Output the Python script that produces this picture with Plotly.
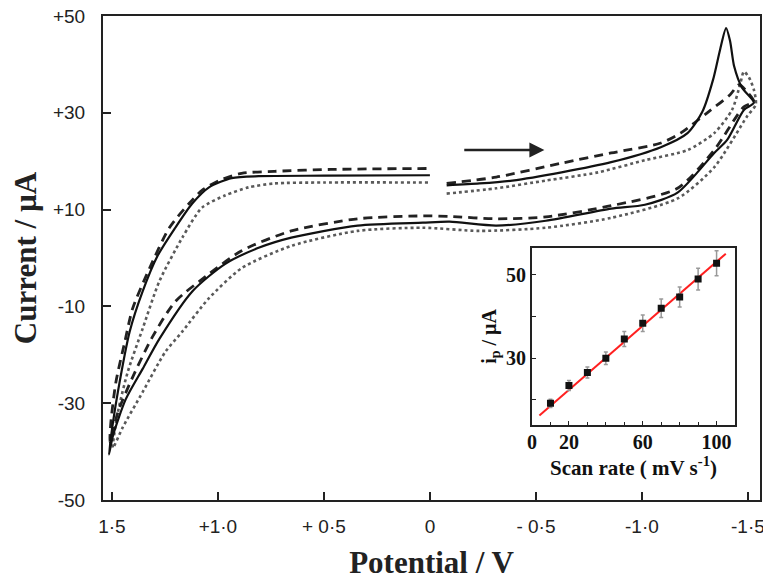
import plotly.graph_objects as go

# ---------------- main cyclic voltammograms ----------------
# solid curve
solid_E = [-0.079, -0.234, -0.388, -0.621, -0.855, -1.089, -1.215, -1.285, -1.336, -1.369, -1.397,
           -1.416, -1.435, -1.472, -1.528,
           -1.481, -1.402, -1.341, -1.168, -1.014, -0.855, -0.547, -0.313, -0.093, 0.033, 0.341,
           0.654, 0.808, 0.967, 1.121, 1.276, 1.355, 1.435, 1.495, 1.514,
           1.495, 1.472, 1.416, 1.355, 1.285, 1.201, 1.121, 1.042, 0.935, 0.808, 0.5, 0.0]
solid_I = [15.0, 15.4, 16.0, 17.7, 19.8, 22.9, 25.8, 30.2, 36.9, 43.1, 47.5,
           44.8, 39.6, 35.2, 32.1,
           30.6, 24.4, 21.7, 13.5, 11.0, 10.2, 7.7, 6.7, 7.5, 7.3, 6.7,
           4.2, 2.1, -1.25, -6.9, -16.7, -22.9, -29.2, -36.7, -40.6,
           -34.0, -27.7, -15.2, -6.9, 0.4, 6.25, 11.25, 14.6, 16.5, 16.9, 17.0, 17.1]

# dashed curve
dash_E = [-0.079, -0.313, -0.621, -0.855, -1.089, -1.182, -1.308, -1.416, -1.458, -1.495, -1.528,
          -1.481, -1.341, -1.168, -0.855, -0.547, -0.313, -0.093, 0.033, 0.341, 0.654, 0.888,
          1.042, 1.201, 1.308, 1.402, 1.472, 1.509,
          1.505, 1.481, 1.439, 1.402, 1.322, 1.229, 1.136, 1.075, 0.995, 0.888, 0.734, 0.467, 0.0]
dash_I = [15.4, 16.7, 19.6, 21.7, 23.75, 25.8, 30.0, 33.75, 35.8, 34.4, 32.3,
          31.25, 22.3, 14.4, 10.8, 8.5, 8.1, 8.6, 8.7, 8.1, 5.6, 1.5,
          -3.3, -9.0, -16.25, -24.6, -31.9, -38.1,
          -34.0, -25.6, -17.3, -10.4, -2.1, 6.25, 11.25, 14.0, 16.0, 17.5, 17.9, 18.3, 18.5]

# dotted curve
dot_E = [-0.079, -0.313, -0.547, -0.794, -1.014, -1.215, -1.341, -1.425, -1.463, -1.481, -1.505,
         -1.528, -1.537,
         -1.495, -1.341, -1.168, -0.855, -0.547, -0.234, 0.033, 0.341, 0.654, 0.888, 1.042,
         1.168, 1.248, 1.355, 1.449, 1.495,
         1.472, 1.425, 1.355, 1.276, 1.168, 1.075, 0.967, 0.855, 0.734, 0.5, 0.0]
dot_I = [13.3, 14.4, 16.0, 17.7, 20.2, 22.3, 25.8, 30.6, 35.8, 38.5, 37.3,
         34.8, 31.7,
         29.2, 18.75, 12.3, 8.3, 6.25, 5.6, 6.25, 5.6, 2.5, -2.1, -8.3,
         -15.2, -19.4, -27.7, -35.0, -39.2,
         -31.9, -23.5, -14.6, -4.8, 4.2, 10.4, 12.9, 14.6, 15.4, 15.6, 15.6]

main_ytick_vals = [-50, -30, -10, 10, 30, 50]
main_ytick_text = ["-50", "-30", "-10", "+10", "+30", "+50"]
main_xtick_vals = [1.5, 1.0, 0.5, 0.0, -0.5, -1.0, -1.5]
main_xtick_text = ["1·5", "+1·0", "+ 0·5", "0", "- 0·5", "-1·0", "-1·5"]

# ---------------- inset: peak current vs scan rate ----------------
scan_rate = [10, 20, 30, 40, 50, 60, 70, 80, 90, 100]
ip_values = [19.2, 23.5, 26.6, 30.0, 34.6, 38.4, 42.0, 44.7, 49.0, 52.8]
ip_errors = [1.0, 1.2, 1.3, 1.5, 1.8, 2.0, 2.2, 2.4, 2.6, 3.0]
fit_x = [4, 105]
fit_y = [16.3, 55.1]

fig = go.Figure()

fig.add_trace(go.Scatter(x=dot_E, y=dot_I, mode="lines", xaxis="x", yaxis="y",
                         line=dict(color="#5a5a5a", width=2.6, dash="dot", shape="spline", smoothing=0.7),
                         showlegend=False, hoverinfo="skip"))
fig.add_trace(go.Scatter(x=dash_E, y=dash_I, mode="lines", xaxis="x", yaxis="y",
                         line=dict(color="#222222", width=2.8, dash="9px,6px", shape="spline", smoothing=0.7),
                         showlegend=False, hoverinfo="skip"))
fig.add_trace(go.Scatter(x=solid_E, y=solid_I, mode="lines", xaxis="x", yaxis="y",
                         line=dict(color="#111111", width=2.2, shape="spline", smoothing=0.7),
                         showlegend=False, hoverinfo="skip"))

# inset traces
fig.add_trace(go.Scatter(x=fit_x, y=fit_y, mode="lines", xaxis="x2", yaxis="y2",
                         line=dict(color="#ff2020", width=2), showlegend=False, hoverinfo="skip"))
fig.add_trace(go.Scatter(x=scan_rate, y=ip_values, mode="markers", xaxis="x2", yaxis="y2",
                         marker=dict(color="#111111", size=7, symbol="square"),
                         error_y=dict(type="data", array=ip_errors, color="#999999", thickness=1.5, width=2),
                         showlegend=False, hoverinfo="skip"))

fig.add_annotation(x=-0.54, y=22.3, ax=-0.155, ay=22.3, xref="x", yref="y", axref="x", ayref="y",
                   text="", showarrow=True, arrowhead=2, arrowsize=1.2, arrowwidth=2.5, arrowcolor="#222222")

serif = "Liberation Serif, Times New Roman, serif"
sans = "Liberation Sans, Arial, sans-serif"

# the page body adds an 8 px offset, so the figure is 8 px smaller on each side
fig.update_layout(
    width=763, height=572,
    margin=dict(l=95, r=11, t=8, b=80),
    paper_bgcolor="white", plot_bgcolor="white",
    xaxis=dict(domain=[0, 1], range=[1.542, -1.557], showgrid=False, zeroline=False, automargin=False,
               tickvals=main_xtick_vals, ticktext=main_xtick_text, ticks="inside", ticklen=8,
               tickwidth=2, tickcolor="#222222", ticklabelstandoff=8, ticklabeloverflow="allow",
               tickfont=dict(family=sans, size=19, color="#222222"),
               showline=True, linecolor="#222222", linewidth=2, mirror=True,
               title=dict(text="<b>Potential / V</b>", font=dict(family=serif, size=31, color="#222222"),
                          standoff=25)),
    yaxis=dict(domain=[0, 1], range=[-50, 50], showgrid=False, zeroline=False, automargin=False,
               tickvals=main_ytick_vals, ticktext=main_ytick_text, ticks="inside", ticklen=8,
               tickwidth=2, tickcolor="#222222", ticklabelstandoff=12, ticklabeloverflow="allow",
               tickfont=dict(family=sans, size=19, color="#222222"),
               showline=True, linecolor="#222222", linewidth=2, mirror=True,
               title=dict(text="<b>Current / µA</b>", font=dict(family=serif, size=31, color="#222222"),
                          standoff=8)),
    xaxis2=dict(domain=[0.653, 0.962], anchor="y2", range=[0, 110], showgrid=False, zeroline=False,
                automargin=False, ticklabelstandoff=-2,
                tickvals=[0, 20, 60, 100], ticks="inside", ticklen=4, tickcolor="#222222",
                minor=dict(dtick=10, tick0=0, ticks="inside", ticklen=3, tickcolor="#222222"),
                tickfont=dict(family=serif, size=20, color="#111111", weight="bold"),
                showline=True, linecolor="#222222", linewidth=2, mirror=True,
                title=dict(text="<b>Scan rate ( mV s<sup>-1</sup>)</b>",
                           font=dict(family=serif, size=21, color="#111111"), standoff=6)),
    yaxis2=dict(domain=[0.155, 0.521], anchor="x2", range=[14, 56.5], showgrid=False, zeroline=False,
                automargin=False,
                tickvals=[30, 50], ticks="inside", ticklen=4, tickcolor="#222222",
                minor=dict(tickvals=[20, 40], ticks="inside", ticklen=4, tickcolor="#222222"),
                tickfont=dict(family=serif, size=20, color="#111111", weight="bold"),
                showline=True, linecolor="#222222", linewidth=2, mirror=True,
                title=dict(text="<b>i<sub>p</sub> / µA</b>",
                           font=dict(family=serif, size=20, color="#111111"), standoff=4)),
)

fig.write_html("out.html")
